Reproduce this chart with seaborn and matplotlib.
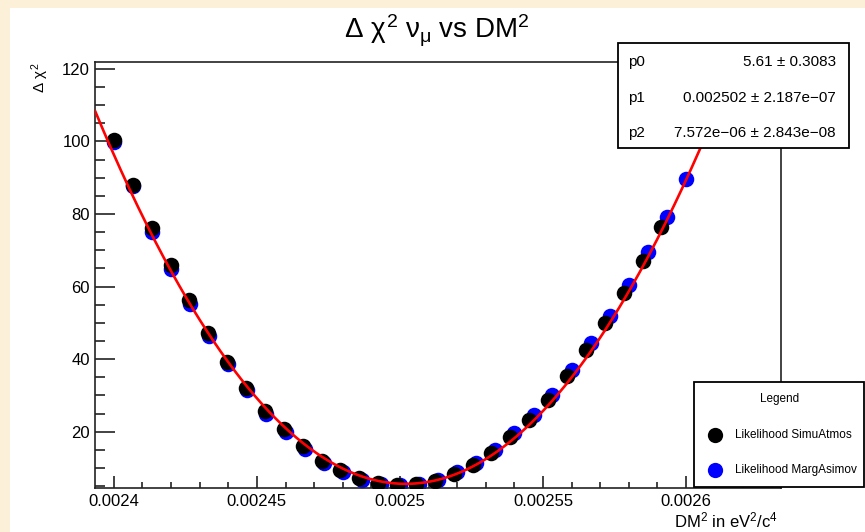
import numpy as np
import pandas as pd
import matplotlib
matplotlib.use("Agg")
import matplotlib.pyplot as plt
from matplotlib.patches import Rectangle
from matplotlib.lines import Line2D
from matplotlib.ticker import FixedLocator, MultipleLocator
import seaborn as sns

# ---- scan points: Delta chi2 versus DM^2 (eV^2/c^4) ----
simu_dm2 = [0.0024000, 0.0024066, 0.0024132, 0.0024198, 0.0024264, 0.0024330,
            0.0024396, 0.0024462, 0.0024528, 0.0024594, 0.0024660, 0.0024726,
            0.0024792, 0.0024858, 0.0024924, 0.0024990, 0.0025056, 0.0025122,
            0.0025188, 0.0025254, 0.0025320, 0.0025386, 0.0025452, 0.0025518,
            0.0025584, 0.0025650, 0.0025716, 0.0025782, 0.0025848, 0.0025914]
simu_chi2 = [100.4, 88.0, 76.2, 65.9, 56.3, 47.2,
             39.2, 32.0, 25.6, 20.6, 16.0, 12.0,
             9.3, 7.1, 5.8, 5.3, 5.6, 6.4,
             8.4, 10.8, 14.2, 18.6, 23.3, 28.6,
             35.4, 42.4, 50.0, 58.2, 67.1, 76.4]

asimov_dm2 = [0.0024000, 0.0024067, 0.0024133, 0.0024200, 0.0024267, 0.0024333,
              0.0024400, 0.0024467, 0.0024533, 0.0024600, 0.0024667, 0.0024733,
              0.0024800, 0.0024867, 0.0024933, 0.0025000, 0.0025067, 0.0025133,
              0.0025200, 0.0025267, 0.0025333, 0.0025400, 0.0025467, 0.0025533,
              0.0025600, 0.0025667, 0.0025733, 0.0025800, 0.0025867, 0.0025933,
              0.0026000]
asimov_chi2 = [99.8, 87.6, 75.0, 64.9, 55.3, 46.4,
               38.6, 31.4, 25.0, 19.9, 15.3, 11.4,
               8.8, 6.8, 5.6, 5.3, 5.7, 6.8,
               8.9, 11.4, 15.0, 19.6, 24.6, 30.1,
               37.1, 44.4, 52.0, 60.5, 69.6, 79.2,
               89.6]

legend_labels = ["Likelihood SimuAtmos", "Likelihood MargAsimov"]

# ---- parabola fit: p0 + 0.5*((x - p1)/p2)^2 ----
fit_names = ["p0", "p1", "p2"]
fit_values = [5.61, 0.002502, 7.572e-06]
fit_value_text = ["5.61", "0.002502", "7.572e\u221206"]
fit_error_text = ["0.3083", "2.187e\u221207", "2.843e\u221208"]

# ---- axes ----
x_ticks = [0.0024, 0.00245, 0.0025, 0.00255, 0.0026]
x_tick_labels = ["0.0024", "0.00245", "0.0025", "0.00255", "0.0026"]
y_ticks = [20, 40, 60, 80, 100, 120]
x_range = (0.0023934, 0.0026332)
y_range = (4.6, 121.9)

sns.set_style("white")
plt.rcParams["font.family"] = ["Liberation Sans", "DejaVu Sans"]
plt.rcParams["text.color"] = "black"
plt.rcParams["mathtext.fontset"] = "custom"
plt.rcParams["mathtext.rm"] = "Liberation Sans"
plt.rcParams["mathtext.it"] = "Liberation Sans"
plt.rcParams["mathtext.bf"] = "Liberation Sans:bold"

W, H = 865, 532
fig = plt.figure(figsize=(W / 100, H / 100), dpi=100, facecolor="#fdf0d8")


def fx(px):
    return px / W


def fy(py):
    return 1 - py / H


# white pad inside the canvas
fig.add_artist(Rectangle((fx(10), 0), 1 - fx(10), fy(8), transform=fig.transFigure,
                         facecolor="white", edgecolor="none", zorder=-5))

ax = fig.add_axes([fx(95), fy(487.5), fx(781) - fx(95), fy(62) - fy(487.5)])
ax.set_facecolor("white")

df_simu = pd.DataFrame({"dm2": simu_dm2, "chi2": simu_chi2})
df_asimov = pd.DataFrame({"dm2": asimov_dm2, "chi2": asimov_chi2})

sns.scatterplot(data=df_asimov, x="dm2", y="chi2", color="#0000ff", s=125,
                linewidth=0, ax=ax, zorder=2, legend=False)
sns.scatterplot(data=df_simu, x="dm2", y="chi2", color="black", s=125,
                linewidth=0, ax=ax, zorder=3, legend=False)

p0, p1, p2 = fit_values
xf = np.linspace(x_range[0], x_range[1], 400)
yf = p0 + 0.5 * ((xf - p1) / p2) ** 2
sns.lineplot(x=xf, y=yf, color="#ff0000", linewidth=1.9, ax=ax, zorder=4,
             estimator=None, sort=False)

ax.set_xlim(*x_range)
ax.set_ylim(*y_range)
ax.set_xlabel("")
ax.set_ylabel("")

ax.xaxis.set_major_locator(FixedLocator(x_ticks))
ax.set_xticklabels(x_tick_labels)
ax.xaxis.set_minor_locator(MultipleLocator(0.00001))
ax.yaxis.set_major_locator(FixedLocator(y_ticks))
ax.yaxis.set_minor_locator(MultipleLocator(5))

for sp in ["left", "bottom", "top", "right"]:
    ax.spines[sp].set_color("#222222")
    ax.spines[sp].set_linewidth(1.2)

ax.tick_params(axis="both", which="both", direction="in", color="#222222",
               width=1.2, labelsize=12, labelcolor="black",
               bottom=True, left=True, top=False, right=False)
ax.tick_params(axis="y", which="major", length=14.4, pad=3.6)
ax.tick_params(axis="y", which="minor", length=7.2)
ax.tick_params(axis="x", which="major", length=8.6, pad=5)
ax.tick_params(axis="x", which="minor", length=4.3)

# titles
fig.text(fx(437), fy(31), r"$\Delta\ \chi^{2}\ \nu_{\mu}$ vs DM$^{2}$",
         ha="center", va="center", fontsize=20, color="black")
fig.text(fx(40), fy(63), r"$\Delta\ \chi^{2}$", rotation=90,
         ha="center", va="top", fontsize=11, color="black")
fig.text(fx(778), fy(520), r"DM$^{2}$ in eV$^{2}$/c$^{4}$",
         ha="right", va="center", fontsize=12, color="black")

# fit statistics box
fig.add_artist(Rectangle((fx(618), fy(148)), fx(849) - fx(618), fy(43) - fy(148),
                         transform=fig.transFigure, facecolor="white",
                         edgecolor="black", linewidth=1.3, zorder=10))
for i, name in enumerate(fit_names):
    yrow = fy([62, 98, 133][i])
    fig.text(fx(628), yrow, name, ha="left", va="center", fontsize=11, zorder=11)
    fig.text(fx(836), yrow, f"{fit_value_text[i]} \u00b1 {fit_error_text[i]}",
             ha="right", va="center", fontsize=11, zorder=11)

# legend box
fig.add_artist(Rectangle((fx(694), fy(487)), fx(864) - fx(694), fy(382) - fy(487),
                         transform=fig.transFigure, facecolor="white",
                         edgecolor="black", linewidth=1.3, zorder=10))
fig.text(fx(780), fy(399), "Legend", ha="center", va="center", fontsize=8.5,
         zorder=11)
for i, (lab, col) in enumerate(zip(legend_labels, ["black", "#0000ff"])):
    yrow = fy([435, 470][i])
    fig.add_artist(Line2D([fx(715)], [yrow], marker="o", markersize=11,
                          markerfacecolor=col, markeredgewidth=0,
                          linestyle="none", transform=fig.transFigure, zorder=11))
    fig.text(fx(735), yrow, lab, ha="left", va="center", fontsize=8.5, zorder=11)

fig.savefig("out.png", dpi=100, facecolor=fig.get_facecolor())
